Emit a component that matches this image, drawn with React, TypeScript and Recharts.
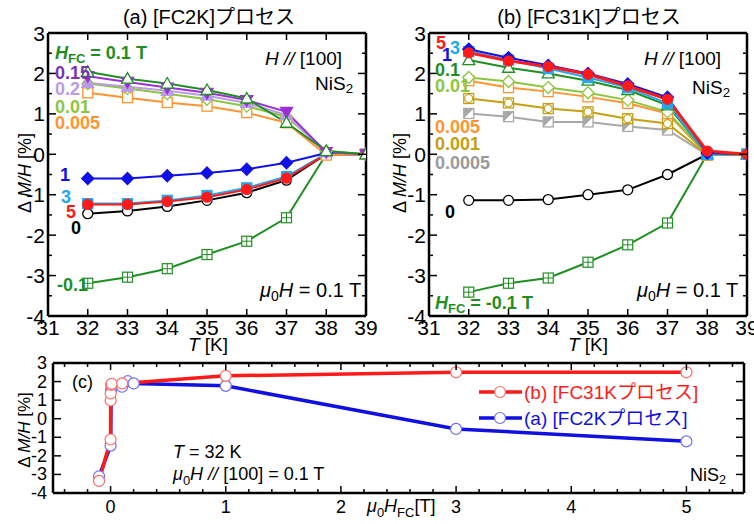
import React from "react";
import { LineChart, Line, XAxis, YAxis } from "recharts";

const FONT = "'Liberation Sans', 'Noto Sans CJK JP', sans-serif";

// temperatures (K)
const temps = [32, 33, 34, 35, 36, 37, 38, 39];

// (a) FC2K process, ΔM/H [%]
const a_m01 = [-3.19, -3.04, -2.83, -2.48, -2.15, -1.57, 0.0, 0.0];
const a_0 = [-1.47, -1.4, -1.29, -1.14, -0.95, -0.64, 0.0, 0.0];
const a_3 = [-1.22, -1.22, -1.14, -1.02, -0.83, -0.55, 0.02, 0.0];
const a_5 = [-1.24, -1.24, -1.17, -1.06, -0.87, -0.59, 0.0, 0.0];
const a_1 = [-0.6, -0.6, -0.53, -0.46, -0.37, -0.21, 0.03, 0.0];
const a_0005 = [1.52, 1.4, 1.28, 1.19, 1.03, 0.78, -0.02, 0.0];
const a_001 = [1.75, 1.63, 1.5, 1.36, 1.19, 0.93, 0.08, 0.0];
const a_02 = [1.77, 1.67, 1.57, 1.45, 1.27, 0.97, 0.05, 0.0];
const a_015 = [1.93, 1.79, 1.65, 1.52, 1.34, 1.05, 0.05, 0.0];
const a_01 = [2.04, 1.87, 1.75, 1.59, 1.38, 0.78, 0.08, 0.0];

// (b) FC31K process, ΔM/H [%]
const b_m01 = [-3.41, -3.19, -3.06, -2.67, -2.24, -1.7, 0.0, 0.0];
const b_0 = [-1.14, -1.14, -1.12, -1.0, -0.88, -0.5, 0.0, 0.0];
const b_00005 = [1.01, 0.93, 0.8, 0.8, 0.69, 0.6, -0.02, 0.0];
const b_0001 = [1.38, 1.27, 1.13, 1.05, 0.88, 0.76, -0.02, 0.0];
const b_0005 = [1.82, 1.65, 1.55, 1.42, 1.26, 1.01, -0.02, 0.0];
const b_001 = [1.9, 1.8, 1.65, 1.52, 1.34, 1.05, 0.0, 0.0];
const b_01 = [2.33, 2.14, 2.0, 1.82, 1.59, 1.21, 0.0, 0.0];
const b_3 = [2.54, 2.33, 2.12, 1.9, 1.65, 1.26, 0.0, 0.0];
const b_1 = [2.6, 2.39, 2.2, 2.0, 1.74, 1.41, 0.03, 0.0];
const b_5 = [2.51, 2.31, 2.17, 1.98, 1.69, 1.36, 0.08, 0.0];

// (c) T = 32 K vs cooling field
const c_fieldB = [-0.1, 0, 0.0005, 0.001, 0.005, 0.01, 0.1, 1, 3, 5];
const c_valB = [-3.35, -1.12, 0.98, 1.36, 1.82, 1.88, 1.9, 2.31, 2.5, 2.5];
const c_fieldA = [-0.1, 0, 0.005, 0.01, 0.1, 0.15, 0.2, 1, 3, 5];
const c_valA = [-3.1, -1.45, 1.55, 1.72, 1.72, 2.02, 1.9, 1.77, -0.55, -1.22];

const yTicksAB = [-4, -3.5, -3, -2.5, -2, -1.5, -1, -0.5, 0, 0.5, 1, 1.5, 2, 2.5, 3];
const xTicksAB = [31, 32, 33, 34, 35, 36, 37, 38, 39];
const yTicksC = [-4, -3, -2, -1, 0, 1, 2, 3];
const xTicksC = [
  -0.4, -0.2, 0, 0.2, 0.4, 0.6, 0.8, 1, 1.2, 1.4, 1.6, 1.8, 2, 2.2, 2.4, 2.6, 2.8, 3,
  3.2, 3.4, 3.6, 3.8, 4, 4.2, 4.4, 4.6, 4.8, 5, 5.2, 5.4,
];

const isMajor = (v: number) => Math.abs(v - Math.round(v)) < 1e-6;

function makeTick(side: string, major: number, minor: number, label: boolean, fs: number, gap: number) {
  return (p: any) => {
    const v = p.payload.value;
    const big = isMajor(v);
    const len = big ? major : minor;
    const { x, y } = p;
    let line;
    let text = null;
    if (side === "bottom") {
      line = <line x1={x} y1={y} x2={x} y2={y - len} stroke="#000" strokeWidth={1.5} />;
      if (label && big)
        text = (
          <text x={x} y={y + gap} textAnchor="middle" fontSize={fs} fontFamily={FONT} fill="#000">
            {v}
          </text>
        );
    } else if (side === "top") {
      line = <line x1={x} y1={y} x2={x} y2={y + len} stroke="#000" strokeWidth={1.5} />;
    } else if (side === "left") {
      line = <line x1={x} y1={y} x2={x + len} y2={y} stroke="#000" strokeWidth={1.5} />;
      if (label && big)
        text = (
          <text x={x - gap} y={y} textAnchor="end" dominantBaseline="central" fontSize={fs} fontFamily={FONT} fill="#000">
            {v}
          </text>
        );
    } else {
      line = <line x1={x} y1={y} x2={x - len} y2={y} stroke="#000" strokeWidth={1.5} />;
    }
    return (
      <g key={`${side}-${v}`}>
        {line}
        {text}
      </g>
    );
  };
}

function Marker({ cx, cy, shape, color, filled }: any) {
  if (cx == null || cy == null) return null;
  const fill = filled ? color : "#fff";
  const r = 5;
  switch (shape) {
    case "circle":
      return <circle cx={cx} cy={cy} r={r} fill={fill} stroke={color} strokeWidth={1.3} />;
    case "square":
      return <rect x={cx - r} y={cy - r} width={2 * r} height={2 * r} fill={fill} stroke={color} strokeWidth={1.3} />;
    case "diamond":
      return (
        <polygon
          points={`${cx},${cy - 6} ${cx + 6},${cy} ${cx},${cy + 6} ${cx - 6},${cy}`}
          fill={fill}
          stroke={color}
          strokeWidth={1.3}
        />
      );
    case "triUp":
      return (
        <polygon
          points={`${cx},${cy - 6} ${cx + 6},${cy + 4.5} ${cx - 6},${cy + 4.5}`}
          fill={fill}
          stroke={color}
          strokeWidth={1.3}
        />
      );
    case "triDown":
      return (
        <polygon
          points={`${cx},${cy + 6} ${cx + 6},${cy - 4.5} ${cx - 6},${cy - 4.5}`}
          fill={fill}
          stroke={color}
          strokeWidth={1.3}
        />
      );
    case "squarePlus":
      return (
        <g>
          <rect x={cx - r} y={cy - r} width={2 * r} height={2 * r} fill="#fff" stroke={color} strokeWidth={1.2} />
          <line x1={cx - r} y1={cy} x2={cx + r} y2={cy} stroke={color} strokeWidth={1} />
          <line x1={cx} y1={cy - r} x2={cx} y2={cy + r} stroke={color} strokeWidth={1} />
        </g>
      );
    case "squareCircle":
      return (
        <g>
          <rect x={cx - r} y={cy - r} width={2 * r} height={2 * r} fill="#fff" stroke={color} strokeWidth={1.3} />
          <circle cx={cx} cy={cy} r={r - 1} fill="#fff" stroke={color} strokeWidth={1.2} />
        </g>
      );
    case "squareHalf":
      return (
        <g>
          <rect x={cx - r} y={cy - r} width={2 * r} height={2 * r} fill="#fff" stroke={color} strokeWidth={1.3} />
          <polygon points={`${cx - r},${cy - r} ${cx + r},${cy - r} ${cx - r},${cy + r}`} fill={color} />
        </g>
      );
    default:
      return null;
  }
}

const dotOf = (shape: string, color: string, filled: boolean) => (p: any) =>
  <Marker key={`d-${p.index}`} cx={p.cx} cy={p.cy} shape={shape} color={color} filled={filled} />;

type S = { key: string; vals: number[]; color: string; shape: string; filled: boolean; w?: number };

const seriesA: S[] = [
  { key: "m01", vals: a_m01, color: "#1f8f22", shape: "squarePlus", filled: false },
  { key: "z", vals: a_0, color: "#000000", shape: "circle", filled: false },
  { key: "t3", vals: a_3, color: "#22a8f0", shape: "square", filled: true },
  { key: "t5", vals: a_5, color: "#ff1a1a", shape: "circle", filled: true },
  { key: "t1", vals: a_1, color: "#1010e8", shape: "diamond", filled: true },
  { key: "p0005", vals: a_0005, color: "#ff9430", shape: "square", filled: false },
  { key: "p001", vals: a_001, color: "#8cc63f", shape: "diamond", filled: false },
  { key: "p02", vals: a_02, color: "#bb9ae8", shape: "triUp", filled: true },
  { key: "p015", vals: a_015, color: "#9b30d9", shape: "triDown", filled: true },
  { key: "p01", vals: a_01, color: "#1f8f22", shape: "triUp", filled: false },
];

const seriesB: S[] = [
  { key: "m01", vals: b_m01, color: "#1f8f22", shape: "squarePlus", filled: false },
  { key: "z", vals: b_0, color: "#000000", shape: "circle", filled: false },
  { key: "p00005", vals: b_00005, color: "#a8a8a8", shape: "squareHalf", filled: false },
  { key: "p0001", vals: b_0001, color: "#c4a012", shape: "squareCircle", filled: false },
  { key: "p0005", vals: b_0005, color: "#ff9430", shape: "square", filled: false },
  { key: "p001", vals: b_001, color: "#8cc63f", shape: "diamond", filled: false },
  { key: "p01", vals: b_01, color: "#1f8f22", shape: "triUp", filled: false },
  { key: "t3", vals: b_3, color: "#22a8f0", shape: "square", filled: true },
  { key: "t1", vals: b_1, color: "#1010e8", shape: "diamond", filled: true },
  { key: "t5", vals: b_5, color: "#ff1a1a", shape: "circle", filled: true, w: 3 },
];

function rows(series: S[]) {
  return temps.map((t, i) => {
    const r: any = { x: t };
    series.forEach((s) => (r[s.key] = s.vals[i]));
    return r;
  });
}

const AX = { stroke: "#000", strokeWidth: 2.5 };

function axes(o: any) {
  const { xTicks, yTicks, xDomain, yDomain, fs, xGap, yGap, minorY, minorX } = o;
  return [
    <XAxis key="xb" dataKey="x" type="number" domain={xDomain} ticks={xTicks} interval={0} height={1}
      tickSize={0} tickMargin={0} tickLine={false} axisLine={AX}
      tick={makeTick("bottom", 7, minorX, true, fs, xGap)} allowDataOverflow />,
    <XAxis key="xt" xAxisId="t" orientation="top" dataKey="x" type="number" domain={xDomain} ticks={xTicks}
      interval={0} height={1} tickSize={0} tickMargin={0} tickLine={false} axisLine={AX}
      tick={makeTick("top", 7, minorX, false, fs, 0)} allowDataOverflow />,
    <YAxis key="yl" type="number" domain={yDomain} ticks={yTicks} interval={0} width={1}
      tickSize={0} tickMargin={0} tickLine={false} axisLine={AX}
      tick={makeTick("left", 8, minorY, true, fs, yGap)} allowDataOverflow />,
    <YAxis key="yr" yAxisId="r" orientation="right" type="number" domain={yDomain} ticks={yTicks}
      interval={0} width={1} tickSize={0} tickMargin={0} tickLine={false} axisLine={AX}
      tick={makeTick("right", 8, minorY, false, fs, 0)} allowDataOverflow />,
  ];
}

function TempPanel({ series, left, plotLeft }: { series: S[]; left: number; plotLeft: number }) {
  const data = rows(series);
  const plotRight = plotLeft + 318;
  return (
    <div style={{ position: "absolute", left, top: 0 }}>
      <LineChart width={377} height={345} data={data}
        margin={{ top: 32, left: plotLeft - 1, right: 377 - plotRight - 1, bottom: 28 }}>
        {axes({ xTicks: xTicksAB, yTicks: yTicksAB, xDomain: [31, 39], yDomain: [-4, 3], fs: 21, xGap: 19, yGap: 3, minorY: 4, minorX: 7 })}
        {series.map((s) => (
          <Line
            key={s.key}
            dataKey={s.key}
            stroke={s.color}
            strokeWidth={s.w || 2}
            dot={dotOf(s.shape, s.color, s.filled)}
            isAnimationActive={false}
          />
        ))}
      </LineChart>
    </div>
  );
}

function FieldPanel() {
  const dataB = c_fieldB.map((f, i) => ({ x: f, v: c_valB[i] }));
  const dataA = c_fieldA.map((f, i) => ({ x: f, v: c_valA[i] }));
  const openDot = (c: string) => (p: any) =>
    <circle key={`c-${p.index}`} cx={p.cx} cy={p.cy} r={5.5} fill="#fff" stroke={c} strokeWidth={1.2} />;
  return (
    <div style={{ position: "absolute", left: 0, top: 330 }}>
      <LineChart width={754} height={194} margin={{ top: 32, left: 52, right: 9, bottom: 30 }}>
        {axes({ xTicks: xTicksC, yTicks: yTicksC, xDomain: [-0.5, 5.5], yDomain: [-4, 3], fs: 18, xGap: 20, yGap: 6, minorY: 6, minorX: 4 })}
        <Line data={dataA} dataKey="v" stroke="#1010e0" strokeWidth={3.5} dot={openDot("#6f6ff5")} isAnimationActive={false} />
        <Line data={dataB} dataKey="v" stroke="#ff1a1a" strokeWidth={3.5} dot={openDot("#ff6a6a")} isAnimationActive={false} />
      </LineChart>
    </div>
  );
}

function Sub({ children }: any) {
  return <tspan dy={5} fontSize="70%">{children}</tspan>;
}

function YLabel({ x, y, fs }: { x: number; y: number; fs: number }) {
  return (
    <text x={x} y={y} transform={`rotate(-90 ${x} ${y})`} textAnchor="middle" dominantBaseline="central" fontSize={fs}>
      Δ <tspan fontStyle="italic">M/H</tspan> [%]
    </text>
  );
}

function Overlay() {
  const B = { fontWeight: "bold", fontSize: 18 } as any;
  return (
    <svg width={754} height={524} style={{ position: "absolute", left: 0, top: 0, pointerEvents: "none" }} fontFamily={FONT}>
      {/* titles */}
      <text x={209} y={17} textAnchor="middle" dominantBaseline="central" fontSize={20}>(a) [FC2K]プロセス</text>
      <text x={589} y={17} textAnchor="middle" dominantBaseline="central" fontSize={20}>(b) [FC31K]プロセス</text>
      <YLabel x={25} y={173} fs={18} />
      <YLabel x={400} y={173} fs={18} />
      <YLabel x={24} y={430} fs={17} />
      <text x={208} y={344} textAnchor="middle" dominantBaseline="central" fontSize={19}>
        <tspan fontStyle="italic">T</tspan> [K]
      </text>
      <text x={588} y={344} textAnchor="middle" dominantBaseline="central" fontSize={19}>
        <tspan fontStyle="italic">T</tspan> [K]
      </text>

      {/* panel (a) labels */}
      <text x={55} y={53} dominantBaseline="central" fill="#1f8f22" {...B}>
        <tspan fontStyle="italic">H</tspan><tspan dy={5} fontSize={13}>FC</tspan><tspan dy={-5}> = 0.1 T</tspan>
      </text>
      <text x={55} y={73} dominantBaseline="central" fill="#7a35b5" {...B}>0.15</text>
      <text x={55} y={89} dominantBaseline="central" fill="#bb9ae8" {...B}>0.2</text>
      <text x={55} y={107} dominantBaseline="central" fill="#8cc63f" {...B}>0.01</text>
      <text x={55} y={123} dominantBaseline="central" fill="#ff9430" {...B}>0.005</text>
      <text x={65} y={175} textAnchor="middle" dominantBaseline="central" fill="#1010e8" {...B}>1</text>
      <text x={66} y={197} textAnchor="middle" dominantBaseline="central" fill="#22a8f0" {...B}>3</text>
      <text x={71} y={212} textAnchor="middle" dominantBaseline="central" fill="#ff1a1a" {...B}>5</text>
      <text x={76} y={228} textAnchor="middle" dominantBaseline="central" fill="#000" {...B}>0</text>
      <text x={57} y={285} dominantBaseline="central" fill="#1f8f22" {...B}>-0.1</text>
      <text x={265} y={58} dominantBaseline="central" fontSize={19}>
        <tspan fontStyle="italic">H //</tspan> [100]
      </text>
      <text x={315} y={83} dominantBaseline="central" fontSize={19}>
        NiS<Sub>2</Sub>
      </text>
      <text x={260} y={290} dominantBaseline="central" fontSize={20}>
        <tspan fontStyle="italic">μ</tspan><tspan dy={6} fontSize={14}>0</tspan><tspan dy={-6} fontStyle="italic">H</tspan> = 0.1 T
      </text>

      {/* panel (b) labels */}
      <text x={441} y={43} textAnchor="middle" dominantBaseline="central" fill="#ff1a1a" {...B}>5</text>
      <text x={447} y={55} textAnchor="middle" dominantBaseline="central" fill="#1010e8" {...B}>1</text>
      <text x={455} y={48} textAnchor="middle" dominantBaseline="central" fill="#22a8f0" {...B}>3</text>
      <text x={435} y={70} dominantBaseline="central" fill="#1f8f22" {...B}>0.1</text>
      <text x={435} y={86} dominantBaseline="central" fill="#8cc63f" {...B}>0.01</text>
      <text x={435} y={127} dominantBaseline="central" fill="#ff9430" {...B}>0.005</text>
      <text x={435} y={144} dominantBaseline="central" fill="#c4a012" {...B}>0.001</text>
      <text x={435} y={163} dominantBaseline="central" fill="#9a9a9a" {...B}>0.0005</text>
      <text x={450} y={212} textAnchor="middle" dominantBaseline="central" fill="#000" {...B}>0</text>
      <text x={435} y={303} dominantBaseline="central" fill="#1f8f22" {...B}>
        <tspan fontStyle="italic">H</tspan><tspan dy={5} fontSize={13}>FC</tspan><tspan dy={-5}> = -0.1 T</tspan>
      </text>
      <text x={644} y={58} dominantBaseline="central" fontSize={19}>
        <tspan fontStyle="italic">H //</tspan> [100]
      </text>
      <text x={692} y={87} dominantBaseline="central" fontSize={19}>
        NiS<Sub>2</Sub>
      </text>
      <text x={637} y={290} dominantBaseline="central" fontSize={20}>
        <tspan fontStyle="italic">μ</tspan><tspan dy={6} fontSize={14}>0</tspan><tspan dy={-6} fontStyle="italic">H</tspan> = 0.1 T
      </text>

      {/* panel (c) labels */}
      <text x={72} y={382} dominantBaseline="central" fontSize={18}>(c)</text>
      <text x={173} y={452} dominantBaseline="central" fontSize={18}>
        <tspan fontStyle="italic">T</tspan> = 32 K
      </text>
      <text x={173} y={474} dominantBaseline="central" fontSize={18}>
        <tspan fontStyle="italic">μ</tspan><tspan dy={6} fontSize={13}>0</tspan><tspan dy={-6} fontStyle="italic">H //</tspan> [100] = 0.1 T
      </text>
      <text x={690} y={475} dominantBaseline="central" fontSize={18}>
        NiS<Sub>2</Sub>
      </text>
      <text x={367} y={506} dominantBaseline="central" fontSize={18}>
        <tspan fontStyle="italic">μ</tspan><tspan dy={6} fontSize={13}>0</tspan><tspan dy={-6} fontStyle="italic">H</tspan><tspan dy={6} fontSize={13}>FC</tspan><tspan dy={-6}>[T]</tspan>
      </text>

      {/* legend (c) */}
      <line x1={479} y1={392} x2={522} y2={392} stroke="#ff1a1a" strokeWidth={3.5} />
      <circle cx={500} cy={392} r={5.5} fill="#fff" stroke="#ff6a6a" strokeWidth={1.2} />
      <text x={524} y={392} dominantBaseline="central" fontSize={19} fill="#ff1a1a">(b) [FC31Kプロセス]</text>
      <line x1={479} y1={418} x2={522} y2={418} stroke="#1010e0" strokeWidth={3.5} />
      <circle cx={500} cy={418} r={5.5} fill="#fff" stroke="#6f6ff5" strokeWidth={1.2} />
      <text x={524} y={418} dominantBaseline="central" fontSize={19} fill="#1010e0">(a) [FC2Kプロセス]</text>
    </svg>
  );
}

export default function App() {
  return (
    <div style={{ position: "absolute", left: 0, top: 0, width: 754, height: 524, background: "#fff", fontFamily: FONT }}>
      <TempPanel series={seriesA} left={0} plotLeft={48} />
      <TempPanel series={seriesB} left={377} plotLeft={52} />
      <FieldPanel />
      <Overlay />
    </div>
  );
}
